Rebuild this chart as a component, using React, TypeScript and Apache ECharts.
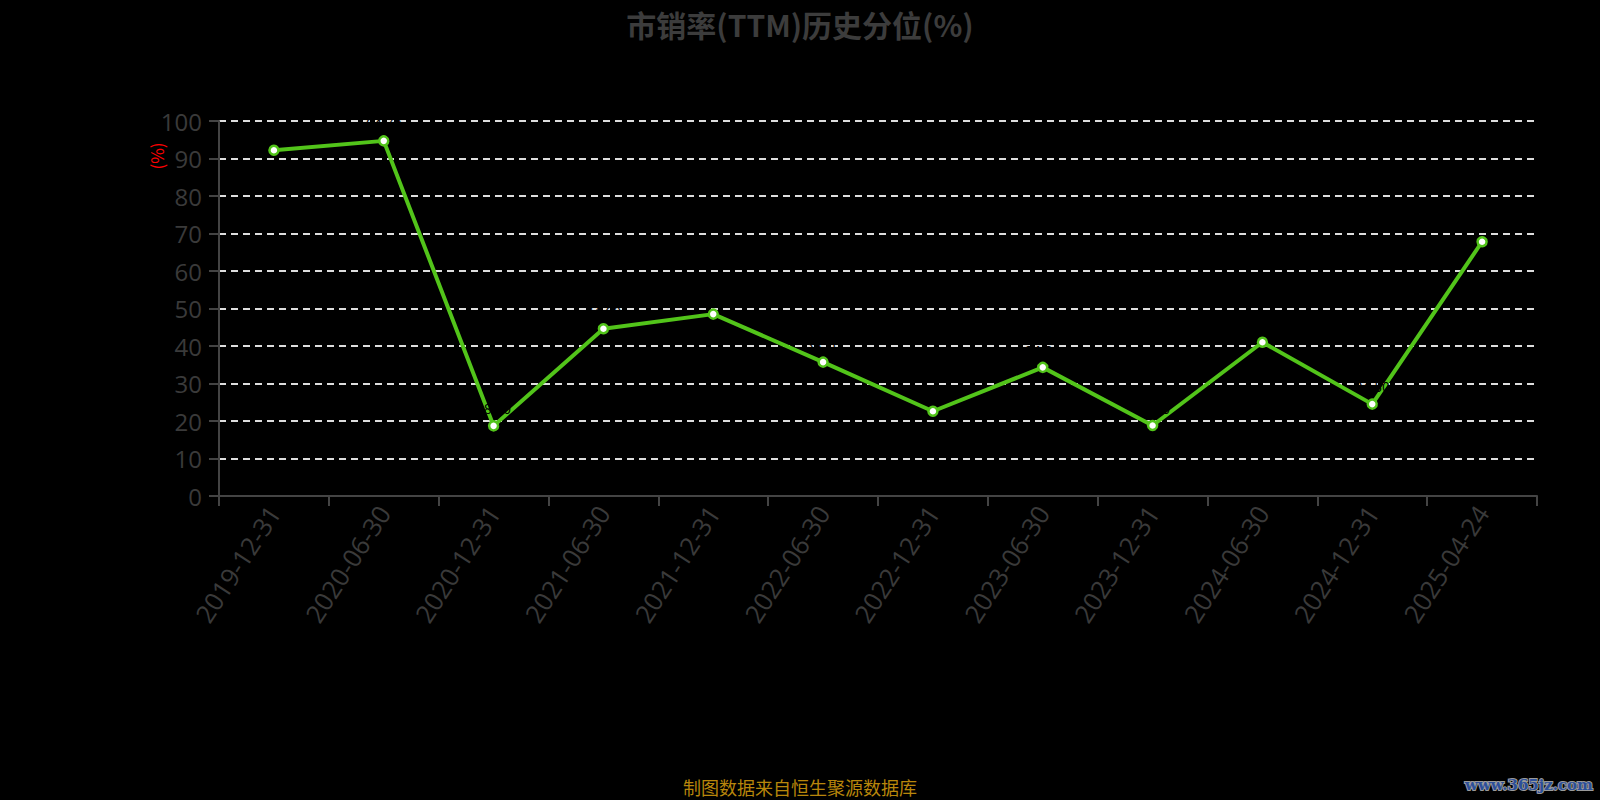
import React, { useEffect, useRef } from "react";
import * as echarts from "echarts";

// Report dates on the category axis
const dates = [
  "2019-12-31",
  "2020-06-30",
  "2020-12-31",
  "2021-06-30",
  "2021-12-31",
  "2022-06-30",
  "2022-12-31",
  "2023-06-30",
  "2023-12-31",
  "2024-06-30",
  "2024-12-31",
  "2025-04-24",
];

// P/S (TTM) historical percentile, %
const percentile = [92.2, 94.7, 18.7, 44.6, 48.5, 35.7, 22.6, 34.3, 18.8, 41.0, 24.5, 67.8];

const titleText = "市销率(TTM)历史分位(%)";
const unitText = "(%)";
const sourceText = "制图数据来自恒生聚源数据库";
const siteText = "www.365jz.com";

const CJK = "'Noto Sans CJK SC', 'Noto Sans', sans-serif";
const NUM = "'Open Sans', 'Noto Sans', sans-serif";

export default function App() {
  const ref = useRef<HTMLDivElement>(null);

  useEffect(() => {
    if (!ref.current) return;
    const chart = echarts.init(ref.current, null, { renderer: "svg" });
    chart.setOption({
      animation: false,
      backgroundColor: "#000",
      textStyle: { fontFamily: CJK },
      title: {
        text: titleText,
        left: "center",
        top: 4,
        textStyle: { color: "#3c3c3c", fontSize: 30, fontWeight: "bold", fontFamily: CJK },
      },
      grid: { left: 219, right: 63, top: 121, bottom: 304, containLabel: false },
      xAxis: {
        type: "category",
        data: dates,
        boundaryGap: true,
        axisLine: { lineStyle: { color: "#444", width: 2 } },
        axisTick: { show: true, length: 10, lineStyle: { color: "#444", width: 2 } },
        axisLabel: { color: "#3a3a3a", fontSize: 25.5, rotate: 57, margin: 12, interval: 0, fontFamily: NUM },
        splitLine: { show: false },
      },
      yAxis: {
        type: "value",
        min: 0,
        max: 100,
        interval: 10,
        axisLine: { show: true, lineStyle: { color: "#444", width: 2 } },
        axisTick: { show: true, length: 10, lineStyle: { color: "#444", width: 2 } },
        axisLabel: { color: "#3a3a3a", fontSize: 24, margin: 17, fontFamily: NUM },
        splitLine: { show: true, lineStyle: { color: "#ddd", width: 2, type: [7, 5] } },
      },
      series: [
        {
          type: "line",
          data: percentile,
          symbol: "circle",
          symbolSize: 9,
          showAllSymbol: true,
          lineStyle: { color: "#52c41a", width: 4 },
          itemStyle: { color: "#fff", borderColor: "#52c41a", borderWidth: 2.5 },
          label: {
            show: true,
            position: "top",
            color: "#000",
            fontSize: 14,
            formatter: (p: any) => Number(p.value).toFixed(2),
          },
          z: 3,
        },
      ],
      graphic: [
        {
          type: "text",
          x: 156,
          y: 156,
          rotation: Math.PI / 2,
          style: {
            text: unitText,
            fill: "#ff0000",
            font: `17px ${CJK}`,
            align: "center",
            verticalAlign: "middle",
          },
        },
        {
          type: "text",
          x: 800,
          y: 787,
          style: {
            text: sourceText,
            fill: "#b8860b",
            font: `18px ${CJK}`,
            align: "center",
            verticalAlign: "middle",
          },
        },
        {
          type: "text",
          x: 1593,
          y: 785,
          style: {
            text: siteText,
            fill: "#2c4f9a",
            stroke: "#9a9a9a",
            lineWidth: 2,
            font: `bold 15px 'DejaVu Serif', serif`,
            align: "right",
            verticalAlign: "middle",
          },
        },
      ],
    });
    return () => chart.dispose();
  }, []);

  return (
    <div
      ref={ref}
      style={{ position: "fixed", left: 0, top: 0, width: 1600, height: 800, background: "#000" }}
    />
  );
}
